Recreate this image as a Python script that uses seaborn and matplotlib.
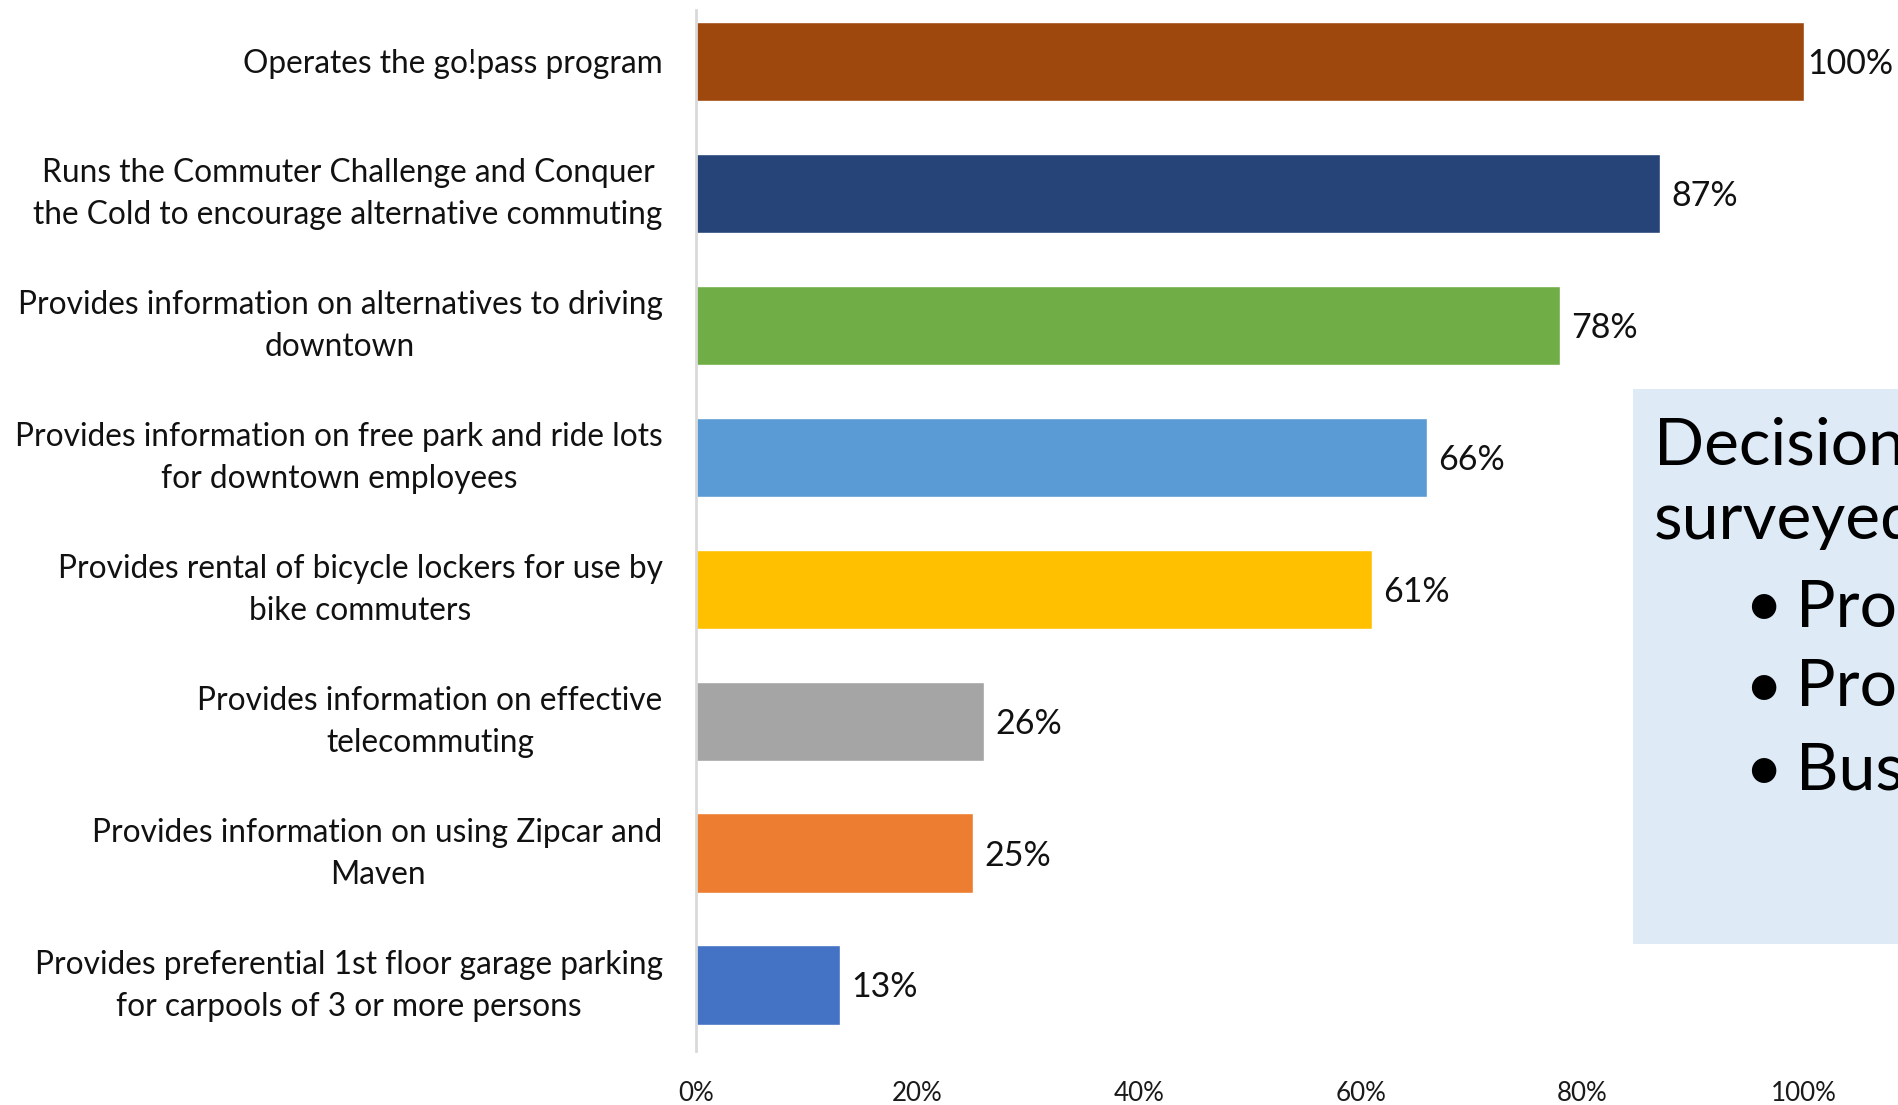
import matplotlib
matplotlib.use("Agg")
import matplotlib.pyplot as plt
import matplotlib.patches as mpatches
import seaborn as sns
import pandas as pd

categories = [
    "Operates the go!pass program",
    "Runs the Commuter Challenge and Conquer\nthe Cold to encourage alternative commuting",
    "Provides information on alternatives to driving\ndowntown",
    "Provides information on free park and ride lots\nfor downtown employees",
    "Provides rental of bicycle lockers for use by\nbike commuters",
    "Provides information on effective\ntelecommuting",
    "Provides information on using Zipcar and\nMaven",
    "Provides preferential 1st floor garage parking\nfor carpools of 3 or more persons",
]
values = [100, 87, 78, 66, 61, 26, 25, 13]
bar_colors = ["#9E480E", "#264478", "#70AD47", "#5B9BD5",
              "#FFC000", "#A5A5A5", "#ED7D31", "#4472C4"]
tick_values = [0, 20, 40, 60, 80, 100]
tick_labels = ["0%", "20%", "40%", "60%", "80%", "100%"]

box_title = ["Decision makers", "surveyed:"]
box_bullets = ["Program managers", "Program staff", "Business owners"]

sns.set_theme(style="white")
plt.rcParams["font.family"] = ["Lato", "DejaVu Sans"]

df = pd.DataFrame({"category": categories, "value": values})

fig = plt.figure(figsize=(18.98, 11.05), dpi=100)
ax = fig.add_axes([0.3667, 0.0489, 0.5838, 0.9421])

sns.barplot(data=df, x="value", y="category", hue="category",
            palette=bar_colors, orient="h", width=0.6, legend=False,
            saturation=1, ax=ax)

ax.set_xlim(0, 100)
ax.set_ylim(7.5, -0.39)
ax.set_xlabel("")
ax.set_ylabel("")
ax.set_xticks(tick_values)
ax.set_xticklabels(tick_labels, fontsize=18.7, color="#1a1a1a")
ax.tick_params(axis="x", length=0, pad=21.5)
ax.tick_params(axis="y", length=0, labelleft=False)

# category labels, right-aligned next to the axis with centred lines
for i, cat in enumerate(categories):
    dy = -0.5 if "\n" in cat else -1.8
    ax.annotate(cat, xy=(0, i), xycoords=("axes fraction", "data"),
                xytext=(-24, dy), textcoords="offset points",
                ha="right", va="center", multialignment="center",
                linespacing=1.5, fontsize=22.8, color="#111111",
                annotation_clip=False)

for side in ["top", "right", "bottom"]:
    ax.spines[side].set_visible(False)
ax.spines["left"].set_color("#D9D9D9")
ax.spines["left"].set_linewidth(2)

# value labels at the end of each bar
for i, v in enumerate(values):
    pad = 2 if v >= 100 else 8
    ax.annotate(f"{v}%", xy=(v, i), xytext=(pad, -1.8), textcoords="offset points",
                ha="left", va="center", fontsize=24.5, color="#111111",
                annotation_clip=False)

# side panel describing who was surveyed
W, H = 1898, 1105
panel = mpatches.Rectangle((1633 / W, 1 - 944 / H), (W - 1633) / W, (944 - 389) / H,
                           transform=fig.transFigure, facecolor="#DEEAF6",
                           edgecolor="none", zorder=5)
fig.patches.append(panel)

fs_box = 47.5
fig.text(1654 / W, 1 - 464 / H, box_title[0], fontsize=fs_box, color="black",
         ha="left", va="baseline", zorder=6)
fig.text(1654 / W, 1 - 539 / H, box_title[1], fontsize=fs_box, color="black",
         ha="left", va="baseline", zorder=6)
for txt, yb in zip(box_bullets, [626, 707, 790]):
    fig.text(1744 / W, 1 - yb / H, "\u2022", fontsize=fs_box, color="black",
             ha="left", va="baseline", zorder=6)
    fig.text(1796 / W, 1 - yb / H, txt, fontsize=fs_box, color="black",
             ha="left", va="baseline", zorder=6)

fig.savefig("out.png", dpi=100)
